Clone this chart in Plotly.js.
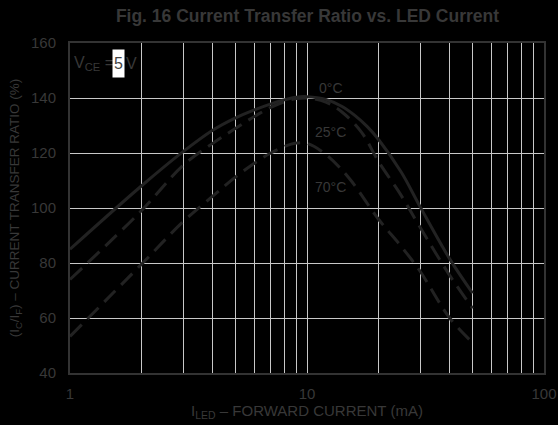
<!DOCTYPE html>
<html>
<head>
<meta charset="utf-8">
<script src="https://cdn.plot.ly/plotly-3.0.1.min.js"></script>
<style>html,body{margin:0;padding:0;background:#000;}#chart{width:558px;height:425px;}</style>
</head>
<body>
<div id="chart"></div>
<script>
// Data
const current0 = [1, 2, 3, 4, 5, 6, 7, 8, 9, 10, 12, 14, 16, 18, 20, 25, 30, 40, 50];
const ctr0 = [85, 108, 120.5, 128.3, 132.8, 135.7, 137.8, 139.3, 140.3, 140.5, 139.5, 137, 133.5, 129.5, 125, 113, 100.5, 81.5, 69];

const current25 = [1, 2, 3, 4, 5, 6, 7, 8, 9, 10, 12, 14, 17, 20, 25, 30, 40, 50];
const ctr25 = [74, 99, 115.5, 123.5, 129, 133.3, 136.5, 138.6, 139.8, 140, 138.5, 135, 127.5, 117, 104.5, 93, 75.5, 63.5];

const current70 = [1, 2, 3, 4, 5, 6, 7, 8, 9, 10, 12, 15, 20, 25, 30, 40, 50];
const ctr70 = [53.3, 79.5, 95, 104.3, 111.3, 116.3, 119.9, 122.3, 123.6, 123.5, 119.5, 111, 96, 86, 77, 60, 51];

const xTickVals = [1, 10, 100];
const xTickText = ['1', '10', '100'];
const xMinorVals = [2, 3, 4, 5, 6, 7, 8, 9, 20, 30, 40, 50, 60, 70, 80, 90];
const yTickVals = [40, 60, 80, 100, 120, 140, 160];

const curveLabels = ['0°C', '25°C', '70°C'];

const FONT = 'Liberation Sans, Arial, Helvetica, sans-serif';
const TXT = '#383838';
const CURVE = '#222222';
const GRID = '#c8c8c8';

const traces = [
  {x: current0, y: ctr0, mode: 'lines', line: {color: CURVE, width: 3, shape: 'spline', smoothing: 1}, name: curveLabels[0], hoverinfo: 'skip'},
  {x: current25, y: ctr25, mode: 'lines', line: {color: CURVE, width: 3, dash: '16px,8px', shape: 'spline', smoothing: 1}, name: curveLabels[1], hoverinfo: 'skip'},
  {x: current70, y: ctr70, mode: 'lines', line: {color: CURVE, width: 3, dash: '16px,8px', shape: 'spline', smoothing: 1}, name: curveLabels[2], hoverinfo: 'skip'}
];

const px = p => (p - 70) / 474;
const py = p => (373 - p) / 330;

const layout = {
  width: 558, height: 425,
  paper_bgcolor: '#000000', plot_bgcolor: '#000000',
  margin: {l: 70, r: 14, t: 43, b: 52},
  showlegend: false,
  font: {family: FONT, color: TXT, size: 14},
  title: {
    text: 'Fig. 16 Current Transfer Ratio vs. LED Current',
    font: {family: FONT, size: 17.5, color: TXT, weight: 'bold'},
    x: 0.551, xanchor: 'center', xref: 'container',
    y: 0.963, yanchor: 'middle', yref: 'container'
  },
  xaxis: {
    type: 'log', range: [0, 2],
    tickmode: 'array', tickvals: xTickVals, ticktext: xTickText,
    showgrid: true, gridcolor: GRID, gridwidth: 1,
    minor: {tickmode: 'array', tickvals: xMinorVals, showgrid: true, gridcolor: GRID, gridwidth: 1, ticks: ''},
    showline: true, mirror: true, linecolor: '#333333', linewidth: 2,
    ticks: '', zeroline: false, ticklabelstandoff: 6,
    tickfont: {family: FONT, size: 15, color: TXT},
    title: {text: 'I<sub>LED</sub> – FORWARD CURRENT (mA)', font: {family: FONT, size: 15, color: TXT}, standoff: 4}
  },
  yaxis: {
    range: [40, 160], tickmode: 'array', tickvals: yTickVals,
    showgrid: true, gridcolor: GRID, gridwidth: 1,
    showline: true, mirror: true, linecolor: '#333333', linewidth: 2,
    ticks: '', zeroline: false, ticklabelstandoff: 9,
    tickfont: {family: FONT, size: 15, color: TXT},
    title: {text: '(I<sub>C</sub>/I<sub>F</sub>) – CURRENT TRANSFER RATIO (%)', font: {family: FONT, size: 13.5, color: TXT}, standoff: 8}
  },
  annotations: [
    {xref: 'paper', yref: 'paper', x: px(72), y: py(63.5), xanchor: 'left', yanchor: 'middle', showarrow: false,
     text: 'V<sub>CE</sub> =', font: {family: FONT, size: 16, color: TXT}},
    {xref: 'paper', yref: 'paper', x: px(118.5), y: py(63.5), xanchor: 'center', yanchor: 'middle', showarrow: false,
     text: '5', width: 11, height: 27, bgcolor: '#ffffff', borderpad: 0, font: {family: FONT, size: 16, color: '#444444'}},
    {xref: 'paper', yref: 'paper', x: px(123.5), y: py(63.5), xanchor: 'left', yanchor: 'middle', showarrow: false,
     text: 'V', font: {family: FONT, size: 16, color: TXT}},
    {xref: 'paper', yref: 'paper', x: px(331), y: py(88), xanchor: 'center', yanchor: 'middle', showarrow: false,
     text: curveLabels[0], font: {family: FONT, size: 14, color: TXT}},
    {xref: 'paper', yref: 'paper', x: px(330), y: py(132), xanchor: 'center', yanchor: 'middle', showarrow: false,
     text: curveLabels[1], font: {family: FONT, size: 14, color: TXT}},
    {xref: 'paper', yref: 'paper', x: px(330), y: py(187), xanchor: 'center', yanchor: 'middle', showarrow: false,
     text: curveLabels[2], font: {family: FONT, size: 14, color: TXT}}
  ]
};

Plotly.newPlot('chart', traces, layout, {displayModeBar: false, staticPlot: true});
</script>
</body>
</html>
